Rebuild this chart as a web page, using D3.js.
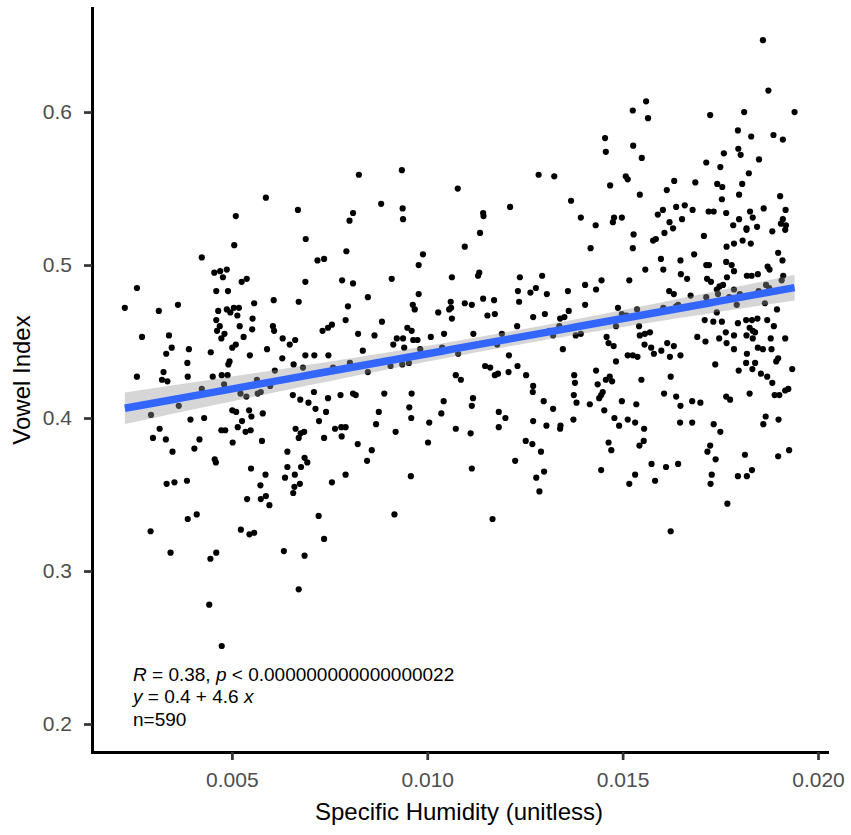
<!DOCTYPE html>
<html>
<head>
<meta charset="utf-8">
<script src="https://cdn.jsdelivr.net/npm/d3@7"></script>
<style>
  body { margin: 0; background: #fff; }
  svg { display: block; font-family: "Liberation Sans", Arial, Helvetica, sans-serif; }
</style>
</head>
<body>
<div id="chart"></div>
<script>
// axis ticks
var humidityTicks = [0.005, 0.010, 0.015, 0.020];
var vowelTicks = [0.2, 0.3, 0.4, 0.5, 0.6];

// fitted line, as printed on the plot (y = a + b x)
var fitIntercept = 0.396;
var fitSlope = 4.6;

// stat labels
var corR = "0.38";
var corP = "0.000000000000000022";
var sampleSize = 590;

// [specific humidity, vowel index]
var observations = [
  [0.00587,0.544],[0.00510,0.532],[0.00669,0.536],[0.00689,0.517],[0.00825,0.559],[0.00935,0.562],
  [0.00810,0.534],[0.00801,0.529],[0.00882,0.540],[0.00937,0.537],[0.00938,0.530],[0.01078,0.550],
  [0.01143,0.534],[0.01144,0.532],[0.01135,0.521],[0.01212,0.538],[0.01285,0.559],[0.01325,0.558],
  [0.01368,0.542],[0.01859,0.647],[0.01873,0.614],[0.01560,0.607],[0.01526,0.601],[0.01565,0.596],
  [0.01724,0.598],[0.01811,0.600],[0.01940,0.600],[0.01455,0.583],[0.01457,0.574],[0.01527,0.578],
  [0.01549,0.570],[0.01795,0.588],[0.01829,0.584],[0.01886,0.585],[0.01910,0.582],[0.01796,0.576],
  [0.01802,0.572],[0.01759,0.573],[0.01849,0.569],[0.01714,0.567],[0.01750,0.564],[0.01823,0.560],
  [0.01508,0.558],[0.01513,0.556],[0.01468,0.552],[0.01632,0.555],[0.01686,0.554],[0.01742,0.553],
  [0.01755,0.551],[0.01806,0.553],[0.01613,0.549],[0.01544,0.546],[0.01798,0.546],[0.01754,0.543],
  [0.01903,0.545],[0.01393,0.531],[0.01431,0.526],[0.01478,0.531],[0.01475,0.528],[0.01498,0.531],
  [0.01528,0.520],[0.01590,0.533],[0.01603,0.536],[0.01637,0.538],[0.01659,0.539],[0.01679,0.536],
  [0.01652,0.530],[0.01620,0.528],[0.01629,0.524],[0.01607,0.521],[0.01720,0.535],[0.01733,0.535],
  [0.01765,0.534],[0.01708,0.519],[0.01826,0.535],[0.01833,0.531],[0.01861,0.537],[0.01917,0.536],
  [0.01798,0.530],[0.01783,0.526],[0.01817,0.524],[0.01817,0.523],[0.01844,0.525],[0.01883,0.522],
  [0.01910,0.530],[0.01905,0.527],[0.01918,0.526],[0.01916,0.523],
  [0.00506,0.513],[0.00423,0.505],[0.00719,0.503],[0.00736,0.504],[0.00257,0.485],[0.00455,0.495],
  [0.00470,0.496],[0.00487,0.497],[0.00477,0.492],[0.00525,0.489],[0.00538,0.491],[0.00688,0.489],
  [0.00782,0.490],[0.00460,0.483],[0.00490,0.483],[0.00226,0.472],[0.00313,0.470],[0.00362,0.474],
  [0.00607,0.477],[0.00671,0.476],[0.00557,0.475],[0.00465,0.470],[0.00487,0.471],[0.00496,0.469],
  [0.00505,0.472],[0.00518,0.472],[0.00460,0.464],[0.00514,0.467],[0.00553,0.465],[0.00469,0.460],
  [0.00520,0.460],[0.00552,0.458],[0.00462,0.457],[0.00605,0.460],[0.00608,0.457],[0.00732,0.457],
  [0.00746,0.459],[0.00756,0.461],[0.00270,0.453],[0.00339,0.454],[0.00473,0.452],[0.00481,0.455],
  [0.00530,0.453],[0.00630,0.452],[0.00648,0.448],[0.00662,0.451],[0.00346,0.446],[0.00332,0.442],
  [0.00390,0.445],[0.00446,0.443],[0.00501,0.446],[0.00510,0.448],[0.00546,0.441],[0.00590,0.445],
  [0.00688,0.441],[0.00711,0.441],[0.00747,0.441],[0.00629,0.439],[0.00386,0.436],[0.00491,0.435],
  [0.00494,0.437],[0.00658,0.435],[0.00682,0.433],[0.00257,0.427],[0.00325,0.430],[0.00321,0.425],
  [0.00335,0.424],[0.00387,0.427],[0.00451,0.427],[0.00474,0.428],[0.00489,0.428],[0.00610,0.431],
  [0.00759,0.433],[0.00423,0.419],[0.00480,0.422],[0.00564,0.425],[0.00522,0.416],[0.00537,0.414],
  [0.00566,0.416],[0.00574,0.417],[0.00598,0.421],[0.00293,0.402],[0.00364,0.408],[0.00656,0.415],
  [0.00675,0.412],[0.00710,0.417],[0.00746,0.413],[0.00778,0.415],[0.00696,0.410],[0.00714,0.406],
  [0.00741,0.404],[0.00501,0.405],[0.00511,0.404],[0.00544,0.405],[0.00550,0.401],[0.00579,0.403],
  [0.00394,0.399],[0.00429,0.400],[0.00526,0.398],[0.00723,0.398],[0.00315,0.393],[0.00298,0.387],
  [0.00331,0.386],[0.00473,0.392],[0.00483,0.392],[0.00515,0.394],[0.00535,0.391],[0.00548,0.392],
  [0.00663,0.393],[0.00676,0.390],[0.00685,0.391],[0.00671,0.387],[0.00736,0.387],[0.00764,0.393],
  [0.00781,0.388],[0.00780,0.394],[0.00417,0.386],[0.00502,0.384],[0.00577,0.385],
  [0.00793,0.509],[0.00989,0.507],[0.01096,0.512],[0.00978,0.500],[0.00909,0.491],[0.00810,0.488],
  [0.01063,0.492],[0.01130,0.493],[0.01133,0.495],[0.01237,0.492],[0.01294,0.493],[0.01232,0.483],
  [0.01264,0.482],[0.01278,0.485],[0.01306,0.481],[0.01360,0.483],[0.00848,0.479],[0.00978,0.481],
  [0.00797,0.473],[0.00791,0.464],[0.00963,0.474],[0.00968,0.471],[0.01060,0.476],[0.01061,0.472],
  [0.01056,0.471],[0.01096,0.475],[0.01114,0.474],[0.01143,0.478],[0.01171,0.477],[0.01235,0.476],
  [0.01028,0.469],[0.01063,0.465],[0.01154,0.467],[0.01173,0.468],[0.01271,0.466],[0.01301,0.468],
  [0.01362,0.470],[0.01351,0.466],[0.01340,0.465],[0.00884,0.463],[0.00823,0.455],[0.00865,0.454],
  [0.00949,0.459],[0.00960,0.457],[0.01009,0.453],[0.01043,0.455],[0.01118,0.455],[0.01191,0.455],
  [0.01230,0.460],[0.01338,0.460],[0.01380,0.454],[0.01313,0.457],[0.01322,0.454],[0.00922,0.452],
  [0.00938,0.452],[0.00964,0.451],[0.00975,0.451],[0.00913,0.448],[0.00941,0.446],[0.00982,0.445],
  [0.00835,0.444],[0.01038,0.446],[0.01179,0.448],[0.01347,0.445],[0.01079,0.442],[0.01209,0.441],
  [0.00802,0.436],[0.00848,0.430],[0.00906,0.434],[0.00936,0.435],[0.00953,0.436],[0.01148,0.434],
  [0.01161,0.433],[0.01231,0.434],[0.01173,0.428],[0.01181,0.429],[0.01208,0.430],[0.01253,0.428],
  [0.01073,0.428],[0.01086,0.425],[0.01271,0.421],[0.01270,0.417],[0.01376,0.428],[0.01378,0.423],
  [0.01375,0.415],[0.01382,0.410],[0.00810,0.416],[0.00817,0.415],[0.00890,0.416],[0.00960,0.416],
  [0.01117,0.413],[0.01114,0.408],[0.01042,0.411],[0.01036,0.403],[0.00954,0.407],[0.00959,0.400],
  [0.00876,0.404],[0.00869,0.396],[0.00919,0.391],[0.01005,0.397],[0.01073,0.393],[0.01111,0.390],
  [0.01183,0.404],[0.01200,0.400],[0.01183,0.394],[0.01271,0.398],[0.01298,0.411],[0.01322,0.406],
  [0.01305,0.395],[0.01341,0.395],[0.01340,0.393],[0.01374,0.399],[0.00791,0.394],[0.00822,0.383],
  [0.01002,0.384],[0.01252,0.385],[0.01269,0.383],
  [0.01418,0.511],[0.01526,0.511],[0.01578,0.516],[0.01585,0.517],[0.01766,0.512],[0.01785,0.514],
  [0.01807,0.516],[0.01828,0.514],[0.01898,0.508],[0.01909,0.503],[0.01683,0.507],[0.01598,0.504],
  [0.01648,0.503],[0.01604,0.497],[0.01558,0.497],[0.01714,0.500],[0.01721,0.500],[0.01765,0.502],
  [0.01779,0.500],[0.01785,0.496],[0.01818,0.493],[0.01830,0.493],[0.01846,0.494],[0.01871,0.499],
  [0.01876,0.497],[0.01911,0.493],[0.01907,0.490],[0.01649,0.494],[0.01665,0.491],[0.01716,0.491],
  [0.01726,0.489],[0.01767,0.492],[0.01517,0.490],[0.01446,0.490],[0.01404,0.487],[0.01432,0.484],
  [0.01748,0.486],[0.01757,0.487],[0.01741,0.484],[0.01785,0.484],[0.01848,0.483],[0.01867,0.487],
  [0.01875,0.485],[0.01619,0.483],[0.01631,0.481],[0.01674,0.480],[0.01714,0.479],[0.01744,0.481],
  [0.01773,0.479],[0.01800,0.481],[0.01792,0.474],[0.01864,0.475],[0.01404,0.474],[0.01488,0.472],
  [0.01537,0.471],[0.01604,0.472],[0.01637,0.473],[0.01642,0.474],[0.01741,0.469],[0.01895,0.471],
  [0.01498,0.468],[0.01510,0.467],[0.01483,0.460],[0.01542,0.460],[0.01710,0.464],[0.01732,0.463],
  [0.01754,0.463],[0.01795,0.462],[0.01816,0.464],[0.01831,0.464],[0.01845,0.465],[0.01870,0.464],
  [0.01825,0.459],[0.01887,0.460],[0.01393,0.455],[0.01544,0.454],[0.01557,0.455],[0.01570,0.456],
  [0.01459,0.453],[0.01764,0.456],[0.01785,0.454],[0.01817,0.454],[0.01833,0.457],[0.01839,0.456],
  [0.01691,0.453],[0.01747,0.452],[0.01766,0.449],[0.01712,0.450],[0.01833,0.452],[0.01879,0.452],
  [0.01916,0.452],[0.01464,0.449],[0.01477,0.447],[0.01556,0.448],[0.01614,0.449],[0.01631,0.447],
  [0.01573,0.446],[0.01580,0.442],[0.01599,0.444],[0.01621,0.440],[0.01648,0.441],[0.01785,0.445],
  [0.01846,0.446],[0.01859,0.445],[0.01881,0.445],[0.01818,0.442],[0.01513,0.441],[0.01526,0.441],
  [0.01538,0.440],[0.01483,0.437],[0.01737,0.435],[0.01816,0.436],[0.01839,0.436],[0.01893,0.437],
  [0.01898,0.439],[0.01432,0.431],[0.01797,0.431],[0.01832,0.432],[0.01934,0.432],[0.01854,0.429],
  [0.01870,0.427],[0.01548,0.425],[0.01623,0.427],[0.01467,0.427],[0.01457,0.425],[0.01473,0.424],
  [0.01436,0.422],[0.01449,0.417],[0.01445,0.415],[0.01440,0.413],[0.01416,0.409],[0.01883,0.423],
  [0.01606,0.416],[0.01637,0.414],[0.01648,0.408],[0.01678,0.411],[0.01699,0.410],[0.01765,0.414],
  [0.01775,0.412],[0.01825,0.416],[0.01889,0.415],[0.01901,0.415],[0.01916,0.418],[0.01924,0.419],
  [0.01498,0.411],[0.01535,0.409],[0.01453,0.405],[0.01479,0.400],[0.01513,0.399],[0.01491,0.395],
  [0.01532,0.397],[0.01555,0.393],[0.01647,0.397],[0.01678,0.397],[0.01733,0.396],[0.01750,0.391],
  [0.01866,0.401],[0.01860,0.396],[0.01899,0.399],[0.01464,0.384],[0.01554,0.385],[0.01543,0.382],
  [0.01724,0.382],
  [0.00348,0.378],[0.00404,0.380],[0.00456,0.373],[0.00459,0.371],[0.00549,0.367],[0.00586,0.363],
  [0.00642,0.378],[0.00642,0.368],[0.00636,0.361],[0.00661,0.363],[0.00677,0.368],[0.00686,0.374],
  [0.00693,0.371],[0.00674,0.357],[0.00660,0.355],[0.00657,0.351],[0.00333,0.357],[0.00353,0.358],
  [0.00385,0.359],[0.00573,0.356],[0.00539,0.347],[0.00574,0.347],[0.00587,0.349],[0.00596,0.343],
  [0.00756,0.358],[0.00387,0.334],[0.00410,0.337],[0.00292,0.326],[0.00523,0.327],[0.00545,0.324],
  [0.00557,0.325],[0.00722,0.336],[0.00736,0.321],[0.00343,0.312],[0.00445,0.308],[0.00460,0.312],
  [0.00633,0.313],[0.00686,0.310],[0.00671,0.288],[0.00442,0.278],[0.00474,0.251],
  [0.00858,0.379],[0.00846,0.372],[0.00791,0.363],[0.00958,0.362],[0.00916,0.337],[0.01114,0.367],
  [0.01225,0.372],[0.01291,0.378],[0.01299,0.365],[0.01279,0.361],[0.01287,0.352],[0.01167,0.334],
  [0.01471,0.379],[0.01445,0.366],[0.01532,0.363],[0.01517,0.357],[0.01574,0.370],[0.01611,0.368],
  [0.01642,0.370],[0.01583,0.359],[0.01717,0.378],[0.01738,0.373],[0.01728,0.363],[0.01725,0.357],
  [0.01813,0.376],[0.01795,0.362],[0.01818,0.362],[0.01831,0.366],[0.01898,0.375],[0.01926,0.379],
  [0.01768,0.344],[0.01623,0.326]
];

var width = 851, height = 835;

var svg = d3.select("#chart")
  .append("svg")
  .attr("width", width)
  .attr("height", height);

var x = d3.scaleLinear().domain([0.00142, 0.02023]).range([92, 827]);
var y = d3.scaleLinear().domain([0.1817, 0.668]).range([752, 8]);

// points first, smooth drawn over them like ggplot
svg.append("g")
  .selectAll("circle")
  .data(observations)
  .enter()
  .append("circle")
  .attr("cx", function (d) { return x(d[0]); })
  .attr("cy", function (d) { return y(d[1]); })
  .attr("r", 3.1)
  .attr("fill", "#000");

// confidence band from the residuals around the printed fit
var n = observations.length;
var xbar = d3.mean(observations, function (d) { return d[0]; });
var sxx = d3.sum(observations, function (d) { return (d[0] - xbar) * (d[0] - xbar); });
var sse = d3.sum(observations, function (d) {
  var r = d[1] - (fitIntercept + fitSlope * d[0]);
  return r * r;
});
var s = Math.sqrt(sse / (n - 2));
var tCrit = 1.964;
var ext = d3.extent(observations, function (d) { return d[0]; });
var grid = d3.range(81).map(function (i) { return ext[0] + i * (ext[1] - ext[0]) / 80; });
var fitted = grid.map(function (gx) {
  var se = s * Math.sqrt(1 / n + (gx - xbar) * (gx - xbar) / sxx);
  var fy = fitIntercept + fitSlope * gx;
  return { x: gx, y: fy, lo: fy - tCrit * se, hi: fy + tCrit * se };
});

svg.append("path")
  .datum(fitted)
  .attr("fill", "#999999")
  .attr("fill-opacity", 0.4)
  .attr("d", d3.area()
    .x(function (d) { return x(d.x); })
    .y0(function (d) { return y(d.lo); })
    .y1(function (d) { return y(d.hi); }));

svg.append("path")
  .datum(fitted)
  .attr("fill", "none")
  .attr("stroke", "#3366FF")
  .attr("stroke-width", 7.5)
  .attr("d", d3.line()
    .x(function (d) { return x(d.x); })
    .y(function (d) { return y(d.y); }));

// axes
var xAxis = svg.append("g")
  .attr("transform", "translate(0,752)")
  .call(d3.axisBottom(x).tickValues(humidityTicks).tickFormat(d3.format(".3f"))
    .tickSize(8).tickSizeOuter(0).tickPadding(12));

var yAxis = svg.append("g")
  .attr("transform", "translate(92,0)")
  .call(d3.axisLeft(y).tickValues(vowelTicks).tickFormat(d3.format(".1f"))
    .tickSize(8).tickSizeOuter(0).tickPadding(12));

[xAxis, yAxis].forEach(function (g) {
  g.attr("font-family", null).attr("font-size", null);
  g.select(".domain").attr("stroke", "#000").attr("stroke-width", 3).attr("stroke-linecap", "square");
  g.selectAll(".tick line").attr("stroke", "#333333").attr("stroke-width", 2.7);
  g.selectAll(".tick text").attr("fill", "#4D4D4D").style("font-size", "21px");
});

// axis titles
svg.append("text")
  .attr("x", 459)
  .attr("y", 820)
  .attr("text-anchor", "middle")
  .style("font-size", "24px")
  .text("Specific Humidity (unitless)");

svg.append("text")
  .attr("transform", "translate(30,380) rotate(-90)")
  .attr("text-anchor", "middle")
  .style("font-size", "24px")
  .text("Vowel Index");

// stat annotation
var note = svg.append("g").style("font-size", "19px");
var l1 = note.append("text").attr("x", 133).attr("y", 681);
l1.append("tspan").style("font-style", "italic").text("R");
l1.append("tspan").text(" = " + corR + ", ");
l1.append("tspan").style("font-style", "italic").text("p");
l1.append("tspan").text(" < " + corP);

var l2 = note.append("text").attr("x", 133).attr("y", 703);
l2.append("tspan").style("font-style", "italic").text("y");
l2.append("tspan").text(" = " + fitIntercept.toFixed(1) + " + " + fitSlope.toFixed(1) + " ");
l2.append("tspan").style("font-style", "italic").text("x");

note.append("text").attr("x", 133).attr("y", 726).text("n=" + sampleSize);
</script>
</body>
</html>
